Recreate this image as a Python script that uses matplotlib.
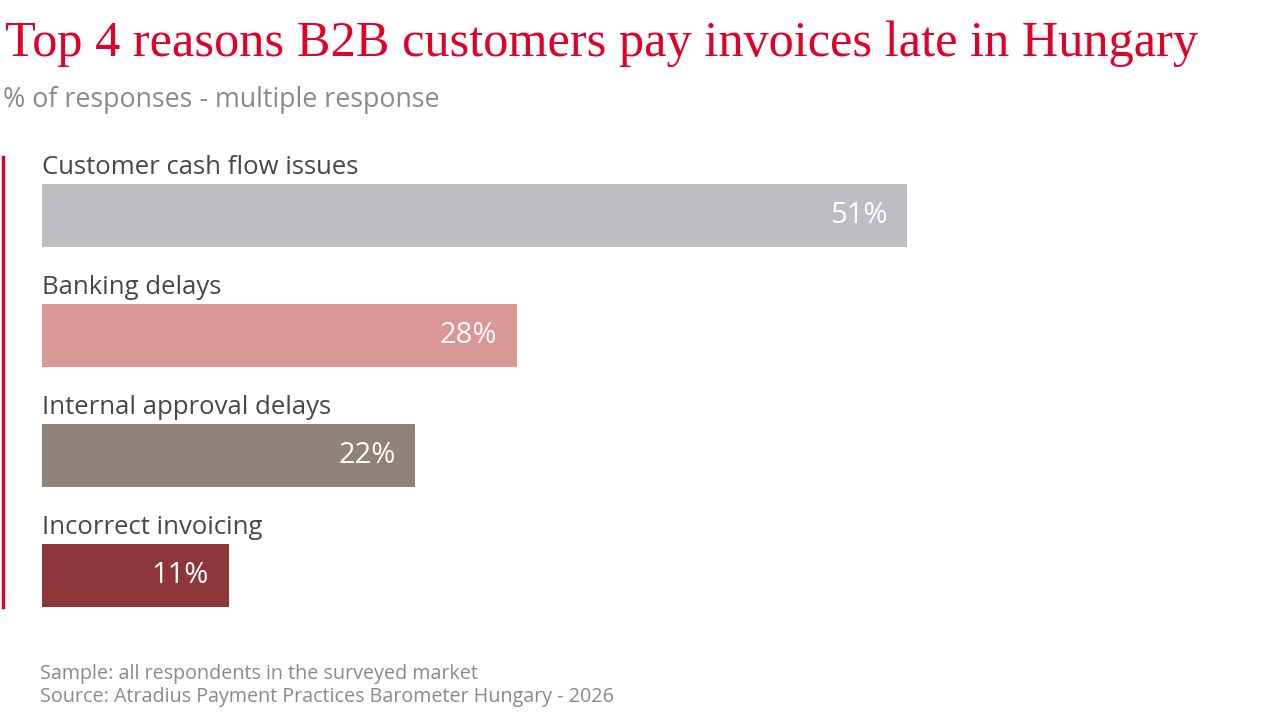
import matplotlib.pyplot as plt

# Data
reasons = ['Customer cash flow issues', 'Banking delays',
           'Internal approval delays', 'Incorrect invoicing']
values = [51, 28, 22, 11]
bar_colors = ['#BDBEC2', '#D99795', '#8F8279', '#8E373B']

title = 'Top 4 reasons B2B customers pay invoices late in Hungary'
subtitle = '% of responses - multiple response'
footer = ['Sample: all respondents in the surveyed market',
          'Source: Atradius Payment Practices Barometer Hungary - 2026']

red = '#E0002A'
sans = ['Open Sans', 'DejaVu Sans']

W, H = 1280, 720
fig = plt.figure(figsize=(W / 100, H / 100), dpi=100)

# axes in pixel coords: left 42, right 1240, top 157, bottom 607
ax = fig.add_axes([42 / W, 1 - 607 / H, (1240 - 42) / W, (607 - 157) / H])
bar_h = 63 / 120
ax.barh(range(len(values)), values, height=bar_h, color=bar_colors,
        edgecolor='none')
ax.set_ylim(3 + bar_h / 2, -58.5 / 120)
ax.set_xlim(0, 51 * 1198 / 865)
ax.axis('off')

for i, (r, v) in enumerate(zip(reasons, values)):
    ax.text(0, i - bar_h / 2 - 0.03, r, ha='left', va='bottom',
            fontsize=18.5, color='#474747', family=sans)
    ax.annotate(f'{v}%', (v, i), xytext=(-14, 0), textcoords='offset points',
                ha='right', va='center', fontsize=21, color='white',
                family=sans)

# red accent line on the left
fig.add_artist(plt.Line2D([3 / W, 3 / W], [1 - 157 / H, 1 - 607 / H],
                          color=red, lw=2.5))

fig.text(5 / W, 1 - 44 / H, title, ha='left', va='center', fontsize=36.3,
         color=red, family=['Liberation Serif', 'DejaVu Serif'])
fig.text(3 / W, 1 - 100 / H, subtitle, ha='left', va='center', fontsize=19.3,
         color='#8A8A8A', family=sans)
fig.text(40 / W, 1 - 674 / H, footer[0], ha='left', va='center',
         fontsize=14.2, color='#8A8A8A', family=sans)
fig.text(40 / W, 1 - 697 / H, footer[1], ha='left', va='center',
         fontsize=14.2, color='#8A8A8A', family=sans)

fig.savefig('out.png', dpi=100)
